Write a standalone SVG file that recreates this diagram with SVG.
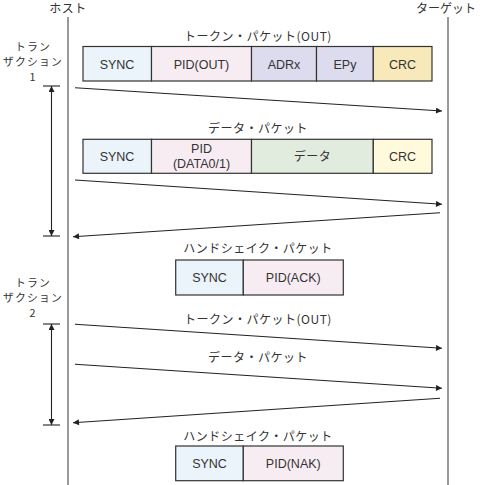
<svg xmlns="http://www.w3.org/2000/svg" width="480" height="485" viewBox="0 0 480 485">
<style>
text{font-family:"Noto Sans CJK JP","Liberation Sans",sans-serif;font-size:12px;fill:#333;text-anchor:middle}
.t{letter-spacing:0.5px}
.tr{font-size:10.8px;letter-spacing:1.2px}
.b{font-family:"Liberation Sans","Noto Sans CJK JP",sans-serif;font-size:12.5px}
.box{stroke:#333;stroke-width:1.2}
.life{stroke:#555;stroke-width:1.2;fill:none}
.msg{stroke:#222;stroke-width:1.1;fill:none}
.blu{fill:#ebf3fb}.pnk{fill:#f8ecf3}.lav{fill:#dcdcee}.crc1{fill:#f8e9ba}.grn{fill:#e1ecde}.crc2{fill:#fffadc}
</style>
<defs>
<marker id="ah" viewBox="0 0 10 10" refX="10" refY="5" markerWidth="8" markerHeight="6" markerUnits="userSpaceOnUse" orient="auto">
<path d="M0,0 L10,5 L0,10 z" fill="#222"/>
</marker>
</defs>
<g id="host"><line class="life" x1="68" y1="17" x2="68" y2="485"/><text class="t" x="68" y="13">ホスト</text></g>
<g id="target"><line class="life" x1="448" y1="17" x2="448" y2="485"/><text x="446" y="13">ターゲット</text></g>
<g id="transaction1">
<text class="tr" x="33" y="51">トラン</text><text class="tr" x="33" y="66">ザクション</text><text class="tr" x="33" y="81">1</text>
<line class="msg" x1="43" y1="86" x2="60" y2="86"/><line class="msg" x1="43" y1="236" x2="60" y2="236"/>
<line class="msg" x1="51.5" y1="160" x2="51.5" y2="86" marker-end="url(#ah)"/>
<line class="msg" x1="51.5" y1="160" x2="51.5" y2="236" marker-end="url(#ah)"/>
</g>
<g id="transaction2">
<text class="tr" x="33" y="287">トラン</text><text class="tr" x="33" y="302">ザクション</text><text class="tr" x="33" y="317">2</text>
<line class="msg" x1="43" y1="324" x2="60" y2="324"/><line class="msg" x1="43" y1="425" x2="60" y2="425"/>
<line class="msg" x1="51.5" y1="375" x2="51.5" y2="324" marker-end="url(#ah)"/>
<line class="msg" x1="51.5" y1="375" x2="51.5" y2="425" marker-end="url(#ah)"/>
</g>
<g id="token1">
<text class="t" x="258" y="41">トークン・パケット(OUT)</text>
<rect class="box blu" x="83" y="46.5" width="68.5" height="34.5"/>
<rect class="box pnk" x="151.5" y="46.5" width="100" height="34.5"/>
<rect class="box lav" x="251.5" y="46.5" width="65" height="34.5"/>
<rect class="box lav" x="316.5" y="46.5" width="56.8" height="34.5"/>
<rect class="box crc1" x="373.3" y="46.5" width="58.7" height="34.5"/>
<text class="b" x="117" y="69">SYNC</text><text class="b" x="201.5" y="69">PID(OUT)</text>
<text class="b" x="284" y="69">ADRx</text><text class="b" x="345" y="69">EPy</text><text class="b" x="402.6" y="69">CRC</text>
</g>
<g id="data1">
<text class="t" x="258" y="133">データ・パケット</text>
<rect class="box blu" x="83" y="139.3" width="68.5" height="34"/>
<rect class="box pnk" x="151.5" y="139.3" width="100" height="34"/>
<rect class="box grn" x="251.5" y="139.3" width="121.8" height="34"/>
<rect class="box crc2" x="373.3" y="139.3" width="58.7" height="34"/>
<text class="b" x="117" y="161">SYNC</text>
<text class="b" x="201.5" y="153">PID</text><text class="b" x="201.5" y="168">(DATA0/1)</text>
<text class="t" x="312.5" y="161">データ</text><text class="b" x="402.6" y="161">CRC</text>
</g>
<g id="handshake1">
<text class="t" x="258" y="253">ハンドシェイク・パケット</text>
<rect class="box blu" x="175.7" y="260" width="67.6" height="35"/>
<rect class="box pnk" x="243.3" y="260" width="100" height="35"/>
<text class="b" x="209.5" y="282">SYNC</text><text class="b" x="293.3" y="282">PID(ACK)</text>
</g>
<g id="token2label"><text class="t" x="258" y="324">トークン・パケット(OUT)</text></g>
<g id="data2label"><text class="t" x="258" y="362">データ・パケット</text></g>
<g id="handshake2">
<text class="t" x="258" y="441">ハンドシェイク・パケット</text>
<rect class="box blu" x="175.7" y="446" width="67.6" height="34.7"/>
<rect class="box pnk" x="243.3" y="446" width="100" height="34.7"/>
<text class="b" x="209.5" y="468">SYNC</text><text class="b" x="293.3" y="468">PID(NAK)</text>
</g>
<g id="connectors">
<line class="msg" x1="75" y1="87.7" x2="442" y2="111" marker-end="url(#ah)"/>
<line class="msg" x1="75" y1="180" x2="442" y2="204.3" marker-end="url(#ah)"/>
<line class="msg" x1="440" y1="212.7" x2="73" y2="236.7" marker-end="url(#ah)"/>
<line class="msg" x1="75" y1="324.3" x2="442" y2="348.3" marker-end="url(#ah)"/>
<line class="msg" x1="75" y1="364.3" x2="442" y2="388.3" marker-end="url(#ah)"/>
<line class="msg" x1="440" y1="398.3" x2="73" y2="422.7" marker-end="url(#ah)"/>
</g>
</svg>
